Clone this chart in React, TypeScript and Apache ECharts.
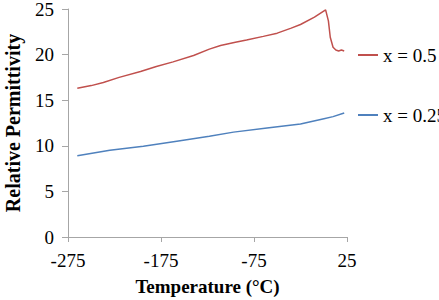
import React, { useEffect, useRef } from "react";
import * as echarts from "echarts";

const xTicks = [-275, -175, -75, 25];

const redTemps = [-265, -250, -237, -220, -197, -180, -162, -140, -123, -111, -95, -83, -65, -50, -35, -25, -10, 2, 5, 7, 10, 13, 16, 19, 22];
const redValues = [16.3, 16.6, 16.95, 17.5, 18.15, 18.7, 19.2, 19.9, 20.6, 21.0, 21.35, 21.6, 22.0, 22.35, 22.9, 23.3, 24.1, 24.9, 23.7, 21.9, 20.8, 20.5, 20.4, 20.5, 20.4];

const blueTemps = [-265, -230, -194, -158, -123, -97, -61, -25, -1, 10, 22];
const blueValues = [8.9, 9.5, 9.95, 10.5, 11.05, 11.5, 11.95, 12.4, 12.95, 13.2, 13.6];

const seriesNames = ["x = 0.5", "x = 0.25"];

const FONT = "Times New Roman, Liberation Serif, serif";

export default function App() {
  const ref = useRef<HTMLDivElement>(null);
  useEffect(() => {
    if (!ref.current) return;
    const chart = echarts.init(ref.current, null, { renderer: "svg" });
    const axisColor = "#a6a6a6";
    chart.setOption({
      animation: false,
      textStyle: { fontFamily: FONT, color: "#000" },
      grid: { left: 68, top: 9, right: 92, bottom: 63, containLabel: false, outerBoundsMode: "none" },
      legend: {
        orient: "vertical",
        left: 353,
        top: 40,
        itemGap: 40,
        itemWidth: 20,
        itemHeight: 2,
        icon: "rect",
        textStyle: { fontFamily: FONT, fontSize: 19, color: "#000", lineHeight: 20 },
        data: seriesNames,
      },
      xAxis: {
        type: "value",
        min: -275,
        max: 25,
        name: "Temperature (°C)",
        nameLocation: "middle",
        nameGap: 40,
        nameTextStyle: { fontFamily: FONT, fontSize: 19, fontWeight: "bold", color: "#000" },
        axisLine: { onZero: false, lineStyle: { color: axisColor } },
        axisTick: { show: true, length: 5, customValues: xTicks, lineStyle: { color: axisColor } },
        axisLabel: { customValues: xTicks, fontSize: 19, color: "#000", fontFamily: FONT, margin: 14 },
        splitLine: { show: false },
      },
      yAxis: {
        type: "value",
        min: 0,
        max: 25,
        interval: 5,
        name: "Relative Permittivity",
        nameLocation: "middle",
        nameGap: 45,
        nameTextStyle: { fontFamily: FONT, fontSize: 20, fontWeight: "bold", color: "#000" },
        axisLine: { show: true, onZero: false, lineStyle: { color: axisColor } },
        axisTick: { show: true, length: 6, lineStyle: { color: axisColor } },
        axisLabel: { fontSize: 19, color: "#000", fontFamily: FONT, margin: 14 },
        splitLine: { show: false },
      },
      series: [
        {
          name: seriesNames[0],
          type: "line",
          data: redTemps.map((t, i) => [t, redValues[i]]),
          showSymbol: false,
          lineStyle: { color: "#c0504d", width: 1.5 },
          itemStyle: { color: "#c0504d" },
        },
        {
          name: seriesNames[1],
          type: "line",
          data: blueTemps.map((t, i) => [t, blueValues[i]]),
          showSymbol: false,
          lineStyle: { color: "#4f81bd", width: 1.5 },
          itemStyle: { color: "#4f81bd" },
        },
      ],
    });
    return () => chart.dispose();
  }, []);
  return (
    <div
      ref={ref}
      style={{ position: "fixed", left: 0, top: 0, width: 439, height: 300, background: "#fff" }}
    />
  );
}
